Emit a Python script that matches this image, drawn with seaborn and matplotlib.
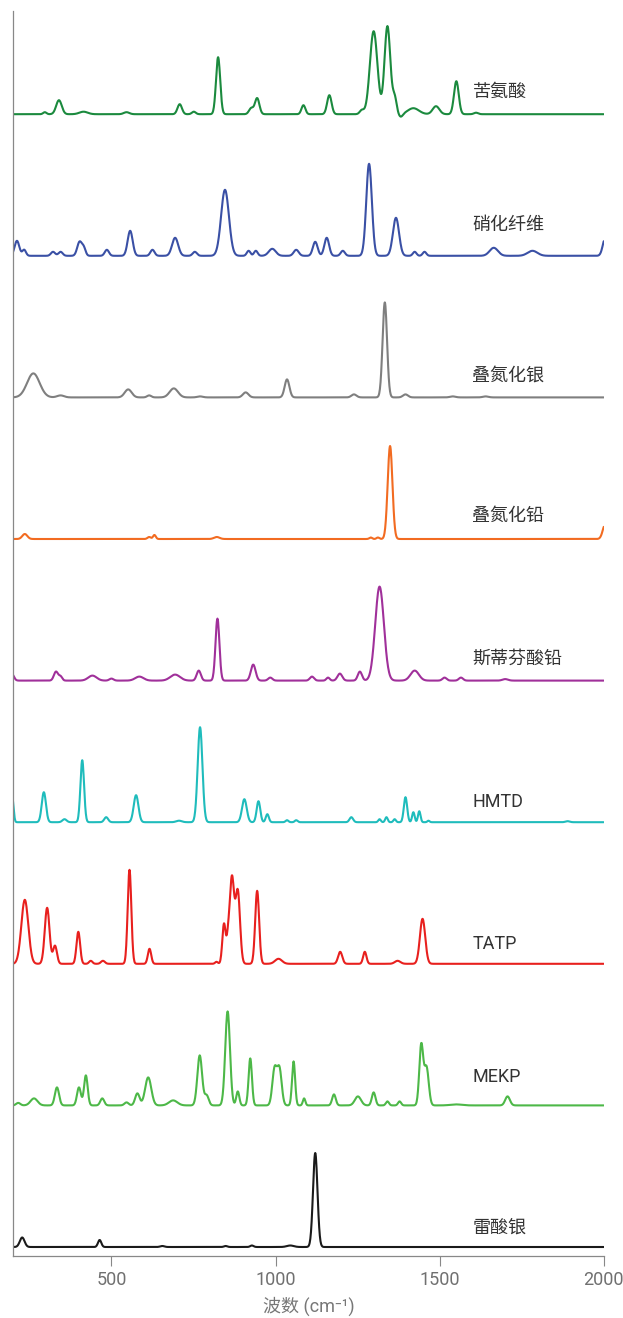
import numpy as np
import pandas as pd
import seaborn as sns
import matplotlib
matplotlib.use("Agg")
import matplotlib.pyplot as plt

# ---------------- data (peak positions cm-1, heights px, FWHM cm-1) ----------------
names = ["苦氨酸", "硝化纤维", "叠氮化银", "叠氮化铅", "斯蒂芬酸铅", "HMTD", "TATP", "MEKP", "雷酸银"]
colors = ["#1b8a3e", "#3a50a5", "#7f7f7f", "#f26b21", "#a0309a", "#1fbcbc", "#e8201e", "#4db848", "#1a1a1a"]

picric_c = [297, 340, 415, 546, 708, 751, 825, 926, 944, 1085, 1164, 1263, 1299, 1341, 1363, 1382, 1420, 1489, 1551, 1611]
picric_h = [2, 14, 2.5, 2, 10, 2.5, 57, 6, 16, 9, 19, 4, 83, 88, 16, -3, 6, 8, 33, 1.5]
picric_w = [12, 20, 30, 20, 16, 14, 15, 16, 16, 14, 16, 15, 27, 21, 14, 14, 40, 24, 17, 15]

nc_c = [212, 234, 322, 345, 403, 416, 486, 557, 625, 694, 754, 846, 918, 940, 990, 1063, 1121, 1156, 1205, 1285, 1367, 1424, 1454, 1665, 1783, 2005]
nc_h = [15, 6, 4, 4, 14, 7, 6, 25, 6, 18, 4, 66, 5, 5, 7, 6, 14, 18, 5, 92, 38, 4, 4, 8, 5, 18]
nc_w = [17, 13, 15, 15, 17, 13, 15, 18, 15, 22, 15, 28, 13, 13, 25, 18, 17, 17, 15, 20, 22, 13, 13, 30, 35, 18]

agaz_c = [262, 345, 551, 615, 690, 770, 909, 1035, 1239, 1333, 1396, 1540, 1640]
agaz_h = [24, 2, 8, 2, 9, 1, 5, 18, 3, 95, 3, 1, 1]
agaz_w = [45, 25, 25, 15, 30, 20, 20, 17, 18, 16, 18, 20, 20]

pbaz_c = [236, 615, 631, 821, 1290, 1312, 1349, 2005]
pbaz_h = [5, 2, 4, 2, 1.5, 1.5, 93, 15]
pbaz_w = [18, 12, 10, 20, 10, 10, 17, 18]

styph_c = [196, 331, 345, 442, 500, 585, 694, 766, 823, 932, 984, 1111, 1160, 1196, 1257, 1317, 1424, 1515, 1565, 1700]
styph_h = [7, 9, 4, 5, 2, 4, 6, 10, 62, 16, 3, 4, 3, 7, 9, 94, 10, 3, 3, 1.5]
styph_w = [15, 15, 12, 30, 15, 30, 35, 15, 14, 17, 15, 15, 12, 17, 15, 31, 30, 15, 15, 20]

hmtd_c = [198, 294, 357, 411, 484, 575, 706, 770, 905, 948, 975, 1035, 1063, 1231, 1317, 1338, 1363, 1396, 1420, 1438, 1466, 1890]
hmtd_h = [24, 30, 3, 62, 5, 27, 1.5, 95, 23, 21, 8, 2, 2, 5, 3, 5, 3, 25, 10, 11, 1.5, 1]
hmtd_w = [9, 15, 15, 13, 14, 17, 20, 17, 17, 13, 11, 10, 10, 13, 9, 9, 9, 12, 9, 9, 8, 15]

tatp_c = [236, 304, 328, 399, 437, 474, 555, 616, 820, 843, 855, 867, 885, 944, 1009, 1197, 1272, 1372, 1448]
tatp_h = [64, 56, 18, 32, 3, 3, 94, 15, 2, 40, 18, 86, 72, 73, 5, 12, 12, 3, 45]
tatp_w = [25, 17, 14, 13, 12, 14, 13, 12, 10, 12, 10, 16, 16, 14, 25, 15, 12, 20, 19]

mekp_c = [216, 264, 334, 401, 422, 472, 546, 579, 612, 688, 769, 790, 854, 885, 923, 997, 1012, 1055, 1087, 1178, 1251, 1299, 1341, 1378, 1444, 1460, 1550, 1707]
mekp_h = [2.5, 7, 18, 18, 30, 7, 3, 12, 28, 5, 50, 10, 94, 14, 47, 36, 36, 44, 7, 11, 9, 13, 4, 4, 60, 38, 1, 9]
mekp_w = [15, 25, 15, 14, 13, 14, 15, 16, 22, 30, 17, 15, 17, 11, 12, 16, 16, 11, 9, 13, 22, 13, 11, 11, 14, 16, 40, 17]

agful_c = [228, 464, 655, 848, 928, 1045, 1121]
agful_h = [9.5, 7, 1, 1, 1.5, 1.5, 94]
agful_w = [17, 12, 15, 12, 12, 25, 16]

xticks = [500, 1000, 1500, 2000]
xlabel = "波数 (cm⁻¹)"

peaks = [
    (picric_c, picric_h, picric_w),
    (nc_c, nc_h, nc_w),
    (agaz_c, agaz_h, agaz_w),
    (pbaz_c, pbaz_h, pbaz_w),
    (styph_c, styph_h, styph_w),
    (hmtd_c, hmtd_h, hmtd_w),
    (tatp_c, tatp_h, tatp_w),
    (mekp_c, mekp_h, mekp_w),
    (agful_c, agful_h, agful_w),
]

# ---------------- layout (pixels) ----------------
W, H = 623, 1318
ax_left, ax_right, ax_bottom, ax_top = 13.0, 603.7, 1256.0, 11.0
label_dy = [22, 31, 22, 23, 22, 20, 20, 28, 19]
base0, spacing = 9.0, 141.6

x = np.arange(200, 2000.5, 1.0)


def spectrum(c, h, w):
    c = np.asarray(c, float)[:, None]
    h = np.asarray(h, float)[:, None]
    w = np.asarray(w, float)[:, None]
    return (h * np.exp(-4 * np.log(2) * ((x[None, :] - c) / w) ** 2)).sum(axis=0)


frames = []
n = len(names)
offsets = []
for i, (name, (c, h, w)) in enumerate(zip(names, peaks)):
    off = base0 + (n - 1 - i) * spacing
    offsets.append(off)
    frames.append(pd.DataFrame({"x": x, "y": spectrum(c, h, w) + off, "sample": name}))
df = pd.concat(frames, ignore_index=True)

sns.set_theme(style="white")
plt.rcParams["font.family"] = ["Roboto", "Noto Sans CJK SC", "DejaVu Sans"]

fig = plt.figure(figsize=(W / 100, H / 100), dpi=100)
ax = fig.add_axes([ax_left / W, (H - ax_bottom) / H,
                   (ax_right - ax_left) / W, (ax_bottom - ax_top) / H])

sns.lineplot(data=df, x="x", y="y", hue="sample", palette=dict(zip(names, colors)),
             legend=False, estimator=None, linewidth=1.5, ax=ax)

for name, off, dy in zip(names, offsets, label_dy):
    ax.text(1600, off + dy, name, ha="left", va="center", fontsize=13, color="#333333")

ax.set_xlim(200, 2000)
ax.set_ylim(0, ax_bottom - ax_top)
ax.set_yticks([])
ax.set_xticks(xticks)
ax.set_xticklabels([str(t) for t in xticks])
ax.tick_params(axis="x", direction="out", length=7.5, width=0.8, color="#888888",
               labelcolor="#707070", labelsize=13, pad=3.5, bottom=True)
for s in ["top", "right"]:
    ax.spines[s].set_visible(False)
for s in ["left", "bottom"]:
    ax.spines[s].set_color("#888888")
    ax.spines[s].set_linewidth(0.9)
ax.set_xlabel(xlabel, fontsize=13, color="#777777", labelpad=5)
ax.set_ylabel("")

fig.savefig("out.png", dpi=100)
